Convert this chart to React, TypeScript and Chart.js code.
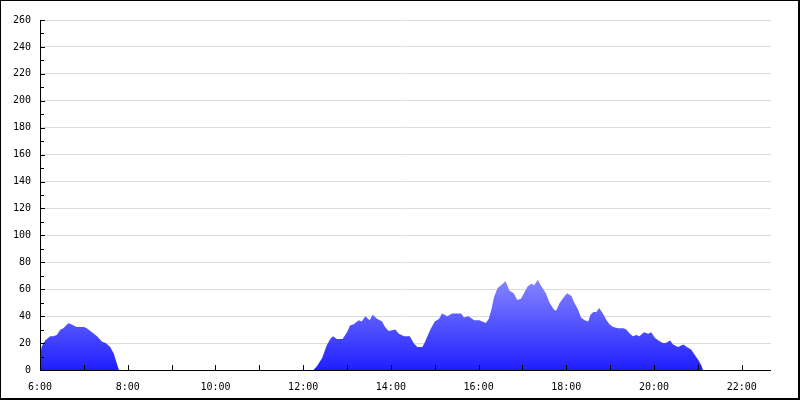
import React, { useEffect, useRef } from 'react';
import { Chart, registerables } from 'chart.js';

Chart.register(...registerables);

// Minutes after 6:00 and the plotted values
const minutesSince6 = [
  0, 2, 7, 14, 18, 23, 28, 32, 39, 46, 50, 60, 64, 71, 78, 85, 90, 96, 101, 105, 108,
  374, 379, 386, 392, 397, 401, 406, 414, 420, 424, 429, 436, 440, 445, 451, 455, 461, 468, 472, 477,
  486, 491, 498, 506, 511, 516, 523, 526, 530, 534, 540, 546, 550, 557, 564, 576, 580, 586, 594, 601,
  605, 610, 614, 618, 621, 626, 633, 637, 642, 648, 653, 658, 662, 667, 672, 676, 681, 685, 692, 697,
  703, 706, 711, 715, 721, 727, 731, 736, 740, 745, 750, 753, 757, 761, 765, 770, 775, 779, 784, 791,
  798, 802, 807, 811, 816, 820, 826, 832, 836, 841, 846, 852, 856, 862, 866, 873, 880, 885, 891, 896,
  901, 905, 907,
];
const values = [
  9, 17, 22, 25, 25, 26, 30, 31, 35, 33, 32, 32, 31, 28, 25, 21, 20, 17, 12, 5, 0,
  0, 3, 9, 18, 23, 25, 23, 23, 28, 33, 34, 37, 36, 40, 37, 41, 38, 36, 32, 29,
  30, 27, 25, 25, 20, 17, 17, 20, 25, 30, 36, 38, 42, 40, 42, 42, 39, 40, 37, 37,
  36, 35, 38, 46, 54, 61, 64, 66, 59, 57, 52, 53, 57, 62, 64, 63, 67, 63, 57, 50,
  45, 44, 50, 53, 57, 55, 50, 45, 39, 37, 36, 41, 43, 43, 46, 42, 37, 34, 32, 31,
  31, 30, 27, 25, 26, 25, 28, 27, 28, 24, 22, 20, 20, 22, 19, 17, 19, 17, 15, 11,
  7, 3, 0,
];

const yMax = 260;
const yStep = 20;
const xMaxMinutes = 1000;
const hourTicks = [0, 60, 120, 180, 240, 300, 360, 420, 480, 540, 600, 660, 720, 780, 840, 900, 960];
const xTickLabels = ['6:00', '8:00', '10:00', '12:00', '14:00', '16:00', '18:00', '20:00', '22:00'];

export default function App() {
  const ref = useRef<HTMLCanvasElement>(null);

  useEffect(() => {
    document.body.style.margin = '0';
    const canvas = ref.current!;
    const dataMax = Math.max(...values);

    const axesPlugin = {
      id: 'axesPlugin',
      afterDatasetsDraw(chart: any) {
        const { ctx, chartArea, scales } = chart;
        const xs = scales.x;
        const ys = scales.y;
        const left = Math.round(chartArea.left);
        const right = Math.round(chartArea.right);
        const top = Math.round(ys.getPixelForValue(yMax));
        const bottom = Math.round(ys.getPixelForValue(0));
        ctx.save();
        ctx.fillStyle = '#000000';
        // axis lines
        ctx.fillRect(left, top, 1, bottom - top + 1);
        ctx.fillRect(left, bottom, right - left, 1);
        // y ticks (inward)
        for (let v = 10; v <= yMax; v += 10) {
          const py = Math.round(ys.getPixelForValue(v));
          const len = v % yStep === 0 ? 4 : 3;
          ctx.fillRect(left + 1, py, len, 1);
        }
        // x ticks (inward)
        for (const m of hourTicks) {
          if (m === 0) continue;
          const px = Math.round(xs.getPixelForValue(m));
          ctx.fillRect(px, bottom - 5, 1, 5);
        }
        ctx.restore();
      },
      afterDraw(chart: any) {
        const { ctx, width, height } = chart;
        ctx.save();
        ctx.fillStyle = '#000000';
        ctx.fillRect(0, 0, width, 1);
        ctx.fillRect(0, 0, 1, height);
        ctx.fillRect(width - 2, 0, 2, height);
        ctx.fillRect(0, height - 2, width, 2);
        ctx.restore();
      },
    };

    const bgPlugin = {
      id: 'bgPlugin',
      beforeDraw(chart: any) {
        const { ctx, width, height } = chart;
        ctx.save();
        ctx.fillStyle = '#ffffff';
        ctx.fillRect(0, 0, width, height);
        ctx.restore();
      },
    };

    const chart = new Chart(canvas, {
      type: 'line',
      data: {
        datasets: [
          {
            data: minutesSince6.map((m, i) => ({ x: m, y: values[i] })),
            fill: 'origin',
            borderWidth: 0,
            borderColor: 'rgba(0,0,0,0)',
            pointRadius: 0,
            tension: 0,
            backgroundColor: (c: any) => {
              const ch = c.chart;
              const area = ch.chartArea;
              if (!area) return '#4040ff';
              const ys = ch.scales.y;
              const g = ch.ctx.createLinearGradient(0, ys.getPixelForValue(0), 0, ys.getPixelForValue(dataMax));
              g.addColorStop(0, '#1f1fff');
              g.addColorStop(1, '#8686ff');
              return g;
            },
          },
        ],
      },
      options: {
        animation: false,
        responsive: false,
        devicePixelRatio: 1,
        layout: { padding: { top: 20, right: 29, left: 0, bottom: 0 } },
        plugins: { legend: { display: false }, tooltip: { enabled: false } },
        scales: {
          x: {
            type: 'linear',
            min: 0,
            max: xMaxMinutes,
            afterBuildTicks: (scale: any) => {
              scale.ticks = hourTicks.map((v) => ({ value: v }));
            },
            afterFit: (scale: any) => {
              scale.height = 30;
            },
            grid: { display: true, drawOnChartArea: false, drawTicks: false },
            border: { display: false },
            ticks: {
              autoSkip: false,
              maxRotation: 0,
              padding: 11,
              color: '#000000',
              font: { family: 'DejaVu Sans Mono', size: 10 },
              callback: (v: any) => (Number(v) % 120 === 0 ? xTickLabels[Number(v) / 120] : ''),
            },
          },
          y: {
            type: 'linear',
            min: 0,
            max: yMax,
            afterFit: (scale: any) => {
              scale.width = 40;
            },
            grid: { color: '#dcdcdc', lineWidth: 1, drawTicks: false },
            border: { display: false },
            ticks: {
              stepSize: yStep,
              padding: 9,
              color: '#000000',
              font: { family: 'DejaVu Sans Mono', size: 10 },
            },
          },
        },
      },
      plugins: [bgPlugin, axesPlugin],
    });

    return () => chart.destroy();
  }, []);

  return (
    <div style={{ width: 800, height: 400 }}>
      <canvas ref={ref} width={800} height={400} style={{ display: 'block', width: 800, height: 400 }} />
    </div>
  );
}
